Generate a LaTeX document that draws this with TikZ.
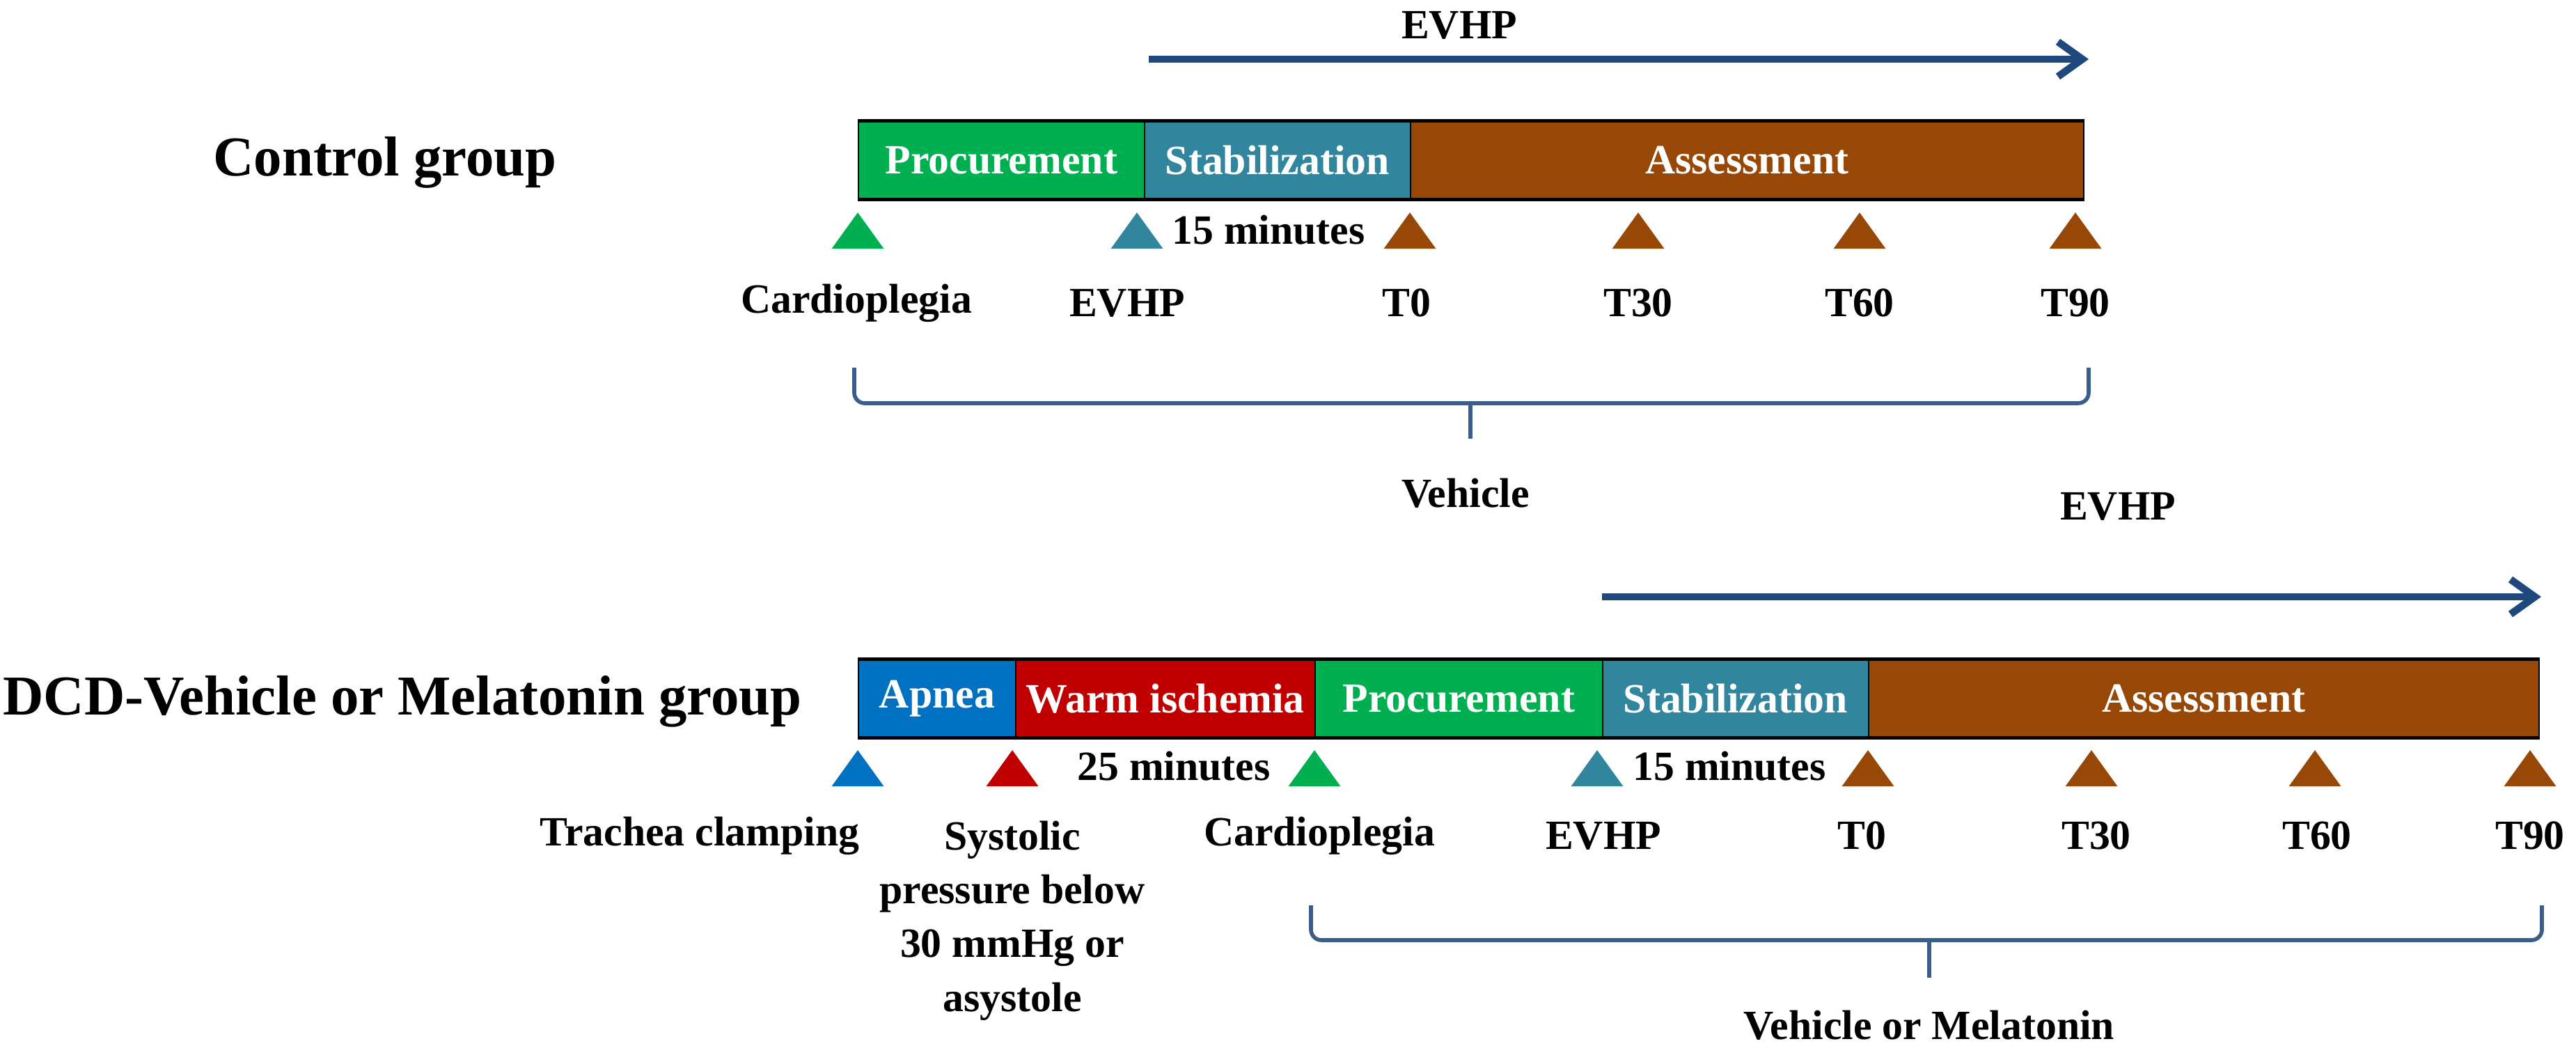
\documentclass[tikz,border=0pt]{standalone}
\usepackage{fontspec}
\setmainfont{Liberation Serif}
\usepackage{tikz}
\usetikzlibrary{shapes.geometric, arrows, arrows.meta}
\definecolor{procgreen}{HTML}{00B050}
\definecolor{stabteal}{HTML}{31859C}
\definecolor{assbrown}{HTML}{974806}
\definecolor{apneablue}{HTML}{0070C0}
\definecolor{warmred}{HTML}{C00000}
\definecolor{evhpblue}{HTML}{1F497D}
\definecolor{bracecol}{HTML}{3A5E8C}
\newcommand{\grpfont}{\fontsize{23}{27}\selectfont\bfseries}
\newcommand{\lblfont}{\fontsize{17}{22}\selectfont\bfseries}
\tikzstyle{group} = [font=\grpfont, inner sep=0pt]
\tikzstyle{phase} = [rectangle, draw=black, line width=0.5pt, minimum height=1.12cm, inner sep=0pt, anchor=west, text=white, font=\lblfont]
\tikzstyle{tag} = [font=\lblfont, inner sep=0pt, align=center]
\tikzstyle{tri} = [isosceles triangle, isosceles triangle stretches, shape border rotate=90, minimum width=0.75cm, minimum height=0.52cm, inner sep=0pt]
\tikzstyle{barline} = [line width=1.4pt]
\tikzstyle{evhp} = [evhpblue, line width=3pt, -{Straight Barb[length=3.5mm,width=5mm]}]
\tikzstyle{brace} = [bracecol, line width=1.6pt, rounded corners=1.5mm]

\begin{document}
\begin{tikzpicture}
\useasboundingbox (0,0) rectangle (37,-15.02);

% control group
\node [group] at (5.53,-2.33) (ctrl) {Control group};
\node [tag] at (20.96,-0.36) (evhp1) {EVHP};
\coordinate (ea1) at (16.50,-0.85);
\coordinate (eb1) at (30.0,-0.85);
\draw [evhp] (ea1) -- (eb1);

\node [phase, fill=procgreen, minimum width=4.11cm] at (12.32,-2.30) (pro1) {Procurement};
\node [phase, fill=stabteal, minimum width=3.82cm] at (16.43,-2.30) (stab1) {Stabilization};
\node [phase, fill=assbrown, minimum width=9.67cm] at (20.25,-2.30) (ass1) {Assessment};
\draw [barline] (pro1.north west) -- (ass1.north east);
\draw [barline] (pro1.south west) -- (ass1.south east);

\node [tri, fill=procgreen] at (12.32,-3.38) (tc1) {};
\node [tri, fill=stabteal] at (16.33,-3.38) (te1) {};
\node [tri, fill=assbrown] at (20.25,-3.38) (t01) {};
\node [tri, fill=assbrown] at (23.53,-3.38) (t301) {};
\node [tri, fill=assbrown] at (26.71,-3.38) (t601) {};
\node [tri, fill=assbrown] at (29.81,-3.38) (t901) {};
\node [tag] at (18.22,-3.30) (min1) {15 minutes};

\node [tag] at (12.30,-4.35) (lc1) {Cardioplegia};
\node [tag] at (16.19,-4.35) (le1) {EVHP};
\node [tag] at (20.20,-4.35) (l01) {T0};
\node [tag] at (23.53,-4.35) (l301) {T30};
\node [tag] at (26.71,-4.35) (l601) {T60};
\node [tag] at (29.81,-4.35) (l901) {T90};

\coordinate (bl1) at (12.27,-5.28);
\coordinate (bm1) at (21.12,-5.79);
\coordinate (br1) at (30.00,-5.28);
\coordinate (bt1) at (21.12,-6.30);
\draw [brace] (bl1) |- (bm1) -| (br1);
\draw [brace] (bm1) -- (bt1);
\node [tag] at (21.05,-7.08) (veh1) {Vehicle};

% DCD group
\node [group] at (5.78,-10.07) (dcd) {DCD-Vehicle or Melatonin group};
\node [tag] at (30.42,-7.27) (evhp2) {EVHP};
\coordinate (ea2) at (23.01,-8.57);
\coordinate (eb2) at (36.50,-8.57);
\draw [evhp] (ea2) -- (eb2);

\node [phase, fill=apneablue, minimum width=2.26cm] at (12.32,-10.03) (apn2) {Apnea};
\node [phase, fill=warmred, minimum width=4.30cm] at (14.58,-10.03) (warm2) {Warm ischemia};
\node [phase, fill=procgreen, minimum width=4.13cm] at (18.88,-10.03) (pro2) {Procurement};
\node [phase, fill=stabteal, minimum width=3.82cm] at (23.01,-10.03) (stab2) {Stabilization};
\node [phase, fill=assbrown, minimum width=9.63cm] at (26.83,-10.03) (ass2) {Assessment};
\draw [barline] (apn2.north west) -- (ass2.north east);
\draw [barline] (apn2.south west) -- (ass2.south east);

\node [tri, fill=apneablue] at (12.32,-11.10) (ta2) {};
\node [tri, fill=warmred] at (14.54,-11.10) (tw2) {};
\node [tri, fill=procgreen] at (18.88,-11.10) (tc2) {};
\node [tri, fill=stabteal] at (22.94,-11.10) (te2) {};
\node [tri, fill=assbrown] at (26.83,-11.10) (t02) {};
\node [tri, fill=assbrown] at (30.04,-11.10) (t302) {};
\node [tri, fill=assbrown] at (33.25,-11.10) (t602) {};
\node [tri, fill=assbrown] at (36.34,-11.10) (t902) {};
\node [tag] at (16.86,-11.00) (min2a) {25 minutes};
\node [tag] at (24.84,-11.00) (min2b) {15 minutes};

\node [tag] at (10.05,-12.00) (lt2) {Trachea clamping};
\node [tag, anchor=north] at (14.54,-11.78) (ls2) {Systolic\\pressure below\\30 mmHg or\\asystole};
\node [tag] at (18.95,-12.00) (lc2) {Cardioplegia};
\node [tag] at (23.03,-12.00) (le2) {EVHP};
\node [tag] at (26.74,-12.00) (l02) {T0};
\node [tag] at (30.11,-12.00) (l302) {T30};
\node [tag] at (33.28,-12.00) (l602) {T60};
\node [tag] at (36.34,-12.00) (l902) {T90};

\coordinate (bl2) at (18.83,-13.00);
\coordinate (bm2) at (27.71,-13.50);
\coordinate (br2) at (36.51,-13.00);
\coordinate (bt2) at (27.71,-14.04);
\draw [brace] (bl2) |- (bm2) -| (br2);
\draw [brace] (bm2) -- (bt2);
\node [tag] at (27.71,-14.72) (veh2) {Vehicle or Melatonin};
\end{tikzpicture}
\end{document}
